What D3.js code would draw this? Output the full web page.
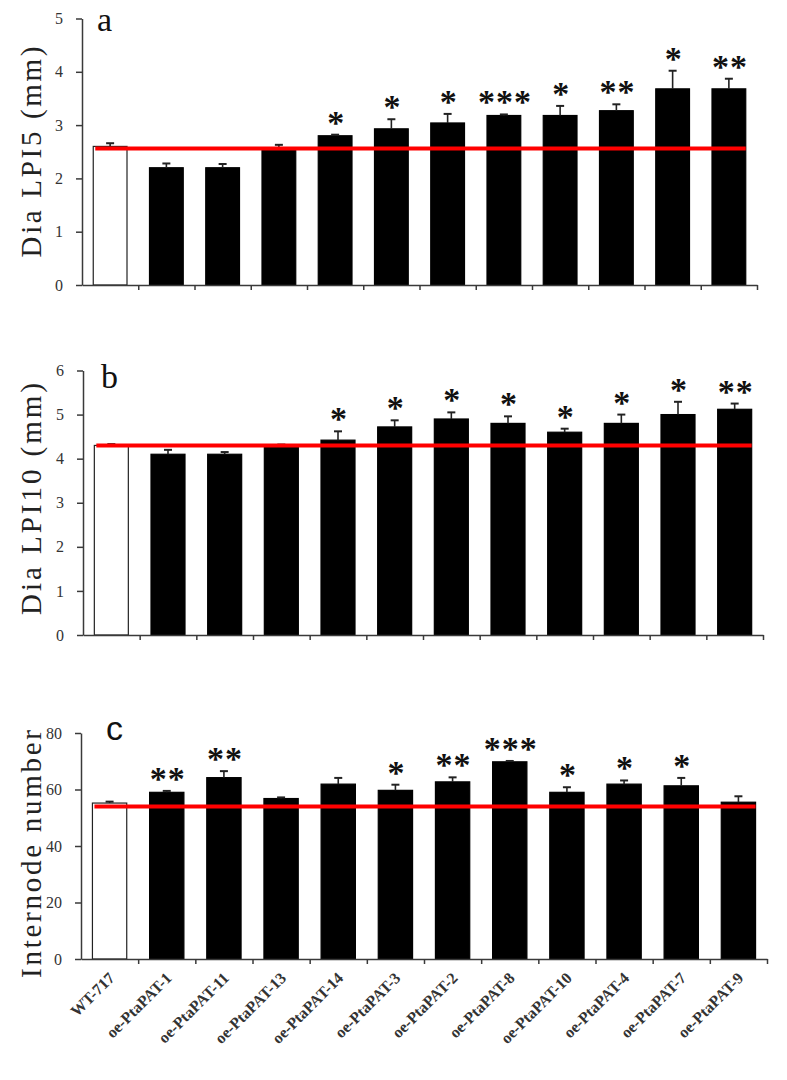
<!DOCTYPE html>
<html>
<head>
<meta charset="utf-8">
<script src="https://cdn.jsdelivr.net/npm/d3@7"></script>
<style>
  html, body { margin: 0; padding: 0; background: #fff; }
  svg { display: block; }
</style>
</head>
<body>
<svg id="chart" width="787" height="1080"></svg>
<script>
// ---------- DATA ----------
const categories = ["WT-717","oe-PtaPAT-1","oe-PtaPAT-11","oe-PtaPAT-13","oe-PtaPAT-14","oe-PtaPAT-3","oe-PtaPAT-2","oe-PtaPAT-8","oe-PtaPAT-10","oe-PtaPAT-4","oe-PtaPAT-7","oe-PtaPAT-9"];

const lpi5Values = [2.6, 2.2, 2.2, 2.55, 2.8, 2.93, 3.04, 3.18, 3.18, 3.27, 3.68, 3.68];
const lpi5Errors = [0.06, 0.08, 0.07, 0.08, 0.02, 0.18, 0.17, 0.02, 0.18, 0.12, 0.34, 0.19];
const lpi5Sig    = ["", "", "", "", "*", "*", "*", "***", "*", "**", "*", "**"];
const lpi5Ref    = 2.56;
const lpi5Ticks  = [0, 1, 2, 3, 4, 5];

const lpi10Values = [4.3, 4.1, 4.1, 4.3, 4.42, 4.72, 4.9, 4.8, 4.6, 4.8, 5.0, 5.12];
const lpi10Errors = [0.03, 0.1, 0.05, 0.02, 0.2, 0.15, 0.15, 0.16, 0.08, 0.2, 0.29, 0.13];
const lpi10Sig    = ["", "", "", "", "*", "*", "*", "*", "*", "*", "*", "**"];
const lpi10Ref    = 4.3;
const lpi10Ticks  = [0, 1, 2, 3, 4, 5, 6];

const internodeValues = [55.2, 59.0, 64.2, 56.8, 61.9, 59.7, 62.7, 69.8, 59.0, 61.9, 61.3, 55.5];
const internodeErrors = [0.5, 0.5, 2.3, 0.4, 2.2, 2.0, 1.6, 0.3, 1.8, 1.3, 2.8, 2.1];
const internodeSig    = ["", "**", "**", "", "", "*", "**", "***", "*", "*", "*", ""];
const internodeRef    = 54.0;
const internodeTicks  = [0, 20, 40, 60, 80];

const panelLetters = ["a", "b", "c"];
const panelTitles  = ["Dia LPI5 (mm)", "Dia LPI10 (mm)", "Internode number"];

// ---------- LAYOUT ----------
const SERIF = "'Liberation Serif', 'Times New Roman', Times, serif";
const panels = [
  { letter: panelLetters[0], title: panelTitles[0], values: lpi5Values, errors: lpi5Errors, sig: lpi5Sig, ref: lpi5Ref, ticks: lpi5Ticks,
    yRange: [285, 18.5], xRange: [82, 757], titleLen: 211, titleY: 152, letterFont: SERIF, letterPos: [97, 31] },
  { letter: panelLetters[1], title: panelTitles[1], values: lpi10Values, errors: lpi10Errors, sig: lpi10Sig, ref: lpi10Ref, ticks: lpi10Ticks,
    yRange: [635, 370.5], xRange: [83, 763], titleLen: 232, titleY: 499, letterFont: SERIF, letterPos: [101, 388] },
  { letter: panelLetters[2], title: panelTitles[2], values: internodeValues, errors: internodeErrors, sig: internodeSig, ref: internodeRef, ticks: internodeTicks,
    yRange: [959, 733], xRange: [81, 767], titleLen: 248, titleY: 854, letterFont: "'Liberation Sans', Arial, sans-serif", letterPos: [106, 740], showLabels: true }
];

const svg = d3.select("#chart");
const axisColor = "#3a3a3a";

panels.forEach(p => {
  const g = svg.append("g");
  const y = d3.scaleLinear().domain([p.ticks[0], p.ticks[p.ticks.length - 1]]).range(p.yRange);
  const x = d3.scaleBand().domain(categories).range(p.xRange).paddingInner(0.4).paddingOuter(0.2);
  const xb = d3.scaleLinear().domain([0, categories.length]).range(p.xRange);
  const y0 = p.yRange[0];
  const cx = d => x(d) + x.bandwidth() / 2;

  // bars
  g.selectAll("rect.bar").data(categories).join("rect")
    .attr("class", "bar")
    .attr("x", d => x(d))
    .attr("width", x.bandwidth())
    .attr("y", (d, i) => y(p.values[i]))
    .attr("height", (d, i) => y0 - y(p.values[i]))
    .attr("fill", (d, i) => i === 0 ? "#fff" : "#000")
    .attr("stroke", (d, i) => i === 0 ? "#222" : "#000")
    .attr("stroke-width", 1.2);

  // error bars (upper only)
  const eb = g.selectAll("g.err").data(categories).join("g").attr("class", "err");
  eb.append("line")
    .attr("x1", cx).attr("x2", cx)
    .attr("y1", (d, i) => y(p.values[i]))
    .attr("y2", (d, i) => y(p.values[i] + p.errors[i]))
    .attr("stroke", "#222").attr("stroke-width", 1.6);
  eb.append("line")
    .attr("x1", d => cx(d) - 4)
    .attr("x2", d => cx(d) + 4)
    .attr("y1", (d, i) => y(p.values[i] + p.errors[i]))
    .attr("y2", (d, i) => y(p.values[i] + p.errors[i]))
    .attr("stroke", "#222").attr("stroke-width", 2);

  // reference red line
  g.append("line")
    .attr("x1", x(categories[0]) + 2)
    .attr("x2", x(categories[categories.length - 1]) + x.bandwidth())
    .attr("y1", y(p.ref)).attr("y2", y(p.ref))
    .attr("stroke", "#ff0000").attr("stroke-width", 4);

  // significance stars
  g.selectAll("text.sig").data(categories).join("text")
    .attr("class", "sig")
    .attr("x", d => cx(d) + 1)
    .attr("y", (d, i) => y(p.values[i] + p.errors[i]) - 1)
    .attr("text-anchor", "middle")
    .attr("font-family", SERIF)
    .attr("font-weight", "bold")
    .attr("font-size", 34)
    .attr("letter-spacing", 1)
    .attr("fill", "#111")
    .text((d, i) => p.sig[i]);

  // y axis
  const ya = g.append("g").attr("transform", `translate(${p.xRange[0]},0)`)
    .call(d3.axisLeft(y).tickValues(p.ticks).tickSize(6).tickSizeOuter(0).tickPadding(13).tickFormat(d3.format("d")));
  ya.attr("font-family", SERIF);
  ya.select(".domain").attr("stroke", axisColor).attr("stroke-width", 1.5);
  ya.selectAll(".tick line").attr("stroke", axisColor).attr("stroke-width", 1.5);
  ya.selectAll(".tick text").attr("font-family", SERIF).attr("font-size", 16).attr("fill", "#333");

  // x axis (ticks at band boundaries)
  const xa = g.append("g").attr("transform", `translate(0,${y0})`)
    .call(d3.axisBottom(xb).tickValues(d3.range(1, categories.length + 1)).tickSize(5).tickSizeOuter(0).tickFormat(""));
  xa.select(".domain").attr("stroke", axisColor).attr("stroke-width", 1.5);
  xa.selectAll(".tick line").attr("stroke", axisColor).attr("stroke-width", 1.5);

  // y title
  g.append("text")
    .attr("transform", `translate(41,${p.titleY}) rotate(-90)`)
    .attr("text-anchor", "middle")
    .attr("font-family", SERIF)
    .attr("font-size", 29)
    .attr("fill", "#222")
    .attr("textLength", p.titleLen)
    .attr("lengthAdjust", "spacing")
    .text(p.title);

  // panel letter
  g.append("text")
    .attr("x", p.letterPos[0]).attr("y", p.letterPos[1])
    .attr("font-family", p.letterFont)
    .attr("font-size", 34)
    .attr("fill", "#111")
    .text(p.letter);

  // category labels, rotated 45 degrees (CSS transform)
  if (p.showLabels) {
    g.selectAll("text.cat").data(categories).join("text")
      .attr("class", "cat")
      .attr("x", 0).attr("y", 0)
      .style("transform", d => `translate(${cx(d) + 6}px, ${y0 + 20}px) rotate(-45deg)`)
      .attr("text-anchor", "end")
      .attr("font-family", SERIF)
      .attr("font-weight", "bold")
      .attr("font-size", 16)
      .attr("fill", "#333")
      .text(d => d);
  }
});
</script>
</body>
</html>
